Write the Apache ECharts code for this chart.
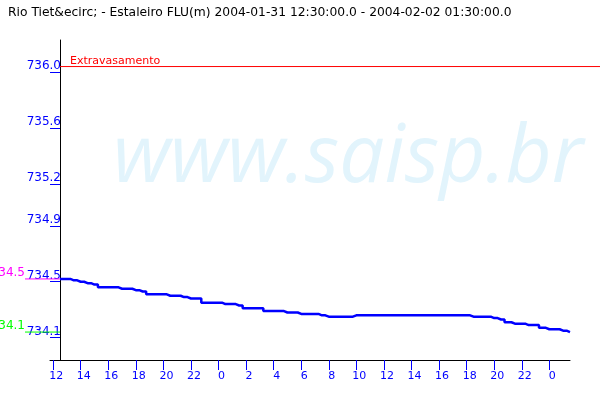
<!DOCTYPE html>
<html><head><meta charset="utf-8">
<script src="https://cdn.jsdelivr.net/npm/echarts@6/dist/echarts.min.js"></script>
<style>html,body{margin:0;padding:0;background:#fff}#c{width:600px;height:400px}</style>
</head><body><div id="c"></div>
<script>
const titleText = 'Rio Tiet&ecirc; - Estaleiro FLU(m) 2004-01-31 12:30:00.0 - 2004-02-02 01:30:00.0';
const watermarkText = 'www.saisp.br';
// hours since 2004-01-31 12:30
const hoursFromStart = [0,0.5,1,1.5,2,2.5,3,3.5,4,4.5,5,5.5,6,6.5,7,7.5,8,8.5,9,9.5,
  10,10.5,11,11.5,12,12.5,13,13.5,14,14.5,15,15.5,16,16.5,17,17.5,18,18.5,19,19.5,
  20,20.5,21,21.5,22,22.5,23,23.5,24,24.5,25,25.5,26,26.5,27,27.5,28,28.5,29,29.5,
  30,30.5,31,31.5,32,32.5,33,33.5,34,34.5,35,35.5,36,36.5,37];
const levels = [734.52,734.52,734.51,734.50,734.49,734.48,734.46,734.46,734.46,734.45,
  734.45,734.44,734.43,734.41,734.41,734.41,734.40,734.40,734.39,734.38,
  734.38,734.35,734.35,734.35,734.34,734.34,734.33,734.31,734.31,734.31,
  734.29,734.29,734.29,734.28,734.28,734.27,734.27,734.27,734.26,734.25,
  734.25,734.25,734.25,734.26,734.26,734.26,734.26,734.26,734.26,734.26,
  734.26,734.26,734.26,734.26,734.26,734.26,734.26,734.26,734.26,734.26,
  734.25,734.25,734.25,734.24,734.23,734.21,734.20,734.20,734.19,734.19,
  734.17,734.16,734.16,734.15,734.14];
const yTickValues = [734.1,734.5,734.9,735.2,735.6,736.0];
const xTickHours = [-0.5,1.5,3.5,5.5,7.5,9.5,11.5,13.5,15.5,17.5,19.5,21.5,23.5,25.5,27.5,29.5,31.5,33.5,35.5];
const xTickLabels = ['12','14','16','18','20','22','0','2','4','6','8','10','12','14','16','18','20','22','0'];
const overflowLevel = 736.04;
const overflowLabel = 'Extravasamento';

const maxLevel = Math.max(...levels);
const minLevel = Math.min(...levels);
const yMin = 733.94, yMax = 736.23;
const FONT = 'DejaVu Sans';

const chart = echarts.init(document.getElementById('c'), null, {renderer:'canvas'});
const hiddenX = i => ({gridIndex:i, type:'value', min:0, max:1, show:false});
const hiddenY = i => ({gridIndex:i, type:'value', min:yMin, max:yMax, show:false});

chart.setOption({
  animation:false,
  backgroundColor:'#ffffff',
  title:{text:titleText, left:3, top:2, textStyle:{fontFamily:FONT, fontSize:12.3, fontWeight:'normal', color:'#000'}},
  graphic:[{type:'text', left:113, top:119, z:-10, silent:true,
    style:{text:watermarkText, fill:'#E2F4FC', font:'italic 80px "Open Sans"'}}],
  grid:[
    {left:50, right:30, top:40, bottom:40},
    {left:25, width:35, top:40, bottom:40},
    {left:60, right:0, top:40, bottom:40}
  ],
  xAxis:[
    {gridIndex:0, type:'value', min:-0.727, max:37,
     axisLine:{show:true, onZero:false, lineStyle:{color:'#000', width:1}},
     axisTick:{show:true, length:10, customValues:xTickHours, lineStyle:{color:'#0000ff'}},
     axisLabel:{customValues:xTickHours, formatter:v=>xTickLabels[xTickHours.findIndex(t=>Math.abs(t-v)<1e-6)],
       color:'#0000ff', fontFamily:FONT, fontSize:11, margin:11, padding:[0,0,0,6]},
     splitLine:{show:false}},
    hiddenX(1), hiddenX(2)
  ],
  yAxis:[
    {gridIndex:0, type:'value', min:yMin, max:yMax,
     axisLine:{show:true, onZero:true, lineStyle:{color:'#000', width:1}},
     axisTick:{show:true, length:10, customValues:yTickValues, lineStyle:{color:'#0000ff'}},
     axisLabel:{customValues:yTickValues, formatter:v=>v.toFixed(1), color:'#0000ff',
       fontFamily:FONT, fontSize:12, margin:-11, verticalAlign:'bottom'},
     splitLine:{show:false}},
    hiddenY(1), hiddenY(2)
  ],
  series:[
    {type:'line', xAxisIndex:0, yAxisIndex:0, data:hoursFromStart.map((h,i)=>[h,levels[i]]),
     symbol:'none', step:'middle', lineStyle:{color:'#0000ff', width:2.5}, z:5},
    {type:'line', xAxisIndex:1, yAxisIndex:1, symbol:'circle', symbolSize:0, clip:false,
     lineStyle:{color:'#ff00ff', width:1}, itemStyle:{color:'#ff00ff'},
     data:[{value:[0,maxLevel], label:{show:true, formatter:maxLevel.toFixed(1), position:'left', distance:0,
       align:'right', verticalAlign:'bottom', color:'#ff00ff', fontFamily:FONT, fontSize:12}}, [1,maxLevel]]},
    {type:'line', xAxisIndex:1, yAxisIndex:1, symbol:'circle', symbolSize:0, clip:false,
     lineStyle:{color:'#00ff00', width:1}, itemStyle:{color:'#00ff00'},
     data:[{value:[0,minLevel], label:{show:true, formatter:minLevel.toFixed(1), position:'left', distance:0,
       align:'right', verticalAlign:'bottom', color:'#00ff00', fontFamily:FONT, fontSize:12}}, [1,minLevel]]},
    {type:'line', xAxisIndex:2, yAxisIndex:2, symbol:'circle', symbolSize:0, clip:false,
     lineStyle:{color:'#ff0000', width:1}, itemStyle:{color:'#ff0000'},
     data:[{value:[0,overflowLevel], label:{show:true, formatter:overflowLabel, position:'right', distance:10,
       align:'left', verticalAlign:'bottom', color:'#ff0000', fontFamily:FONT, fontSize:11}}, [1,overflowLevel]]}
  ]
});
</script></body></html>
